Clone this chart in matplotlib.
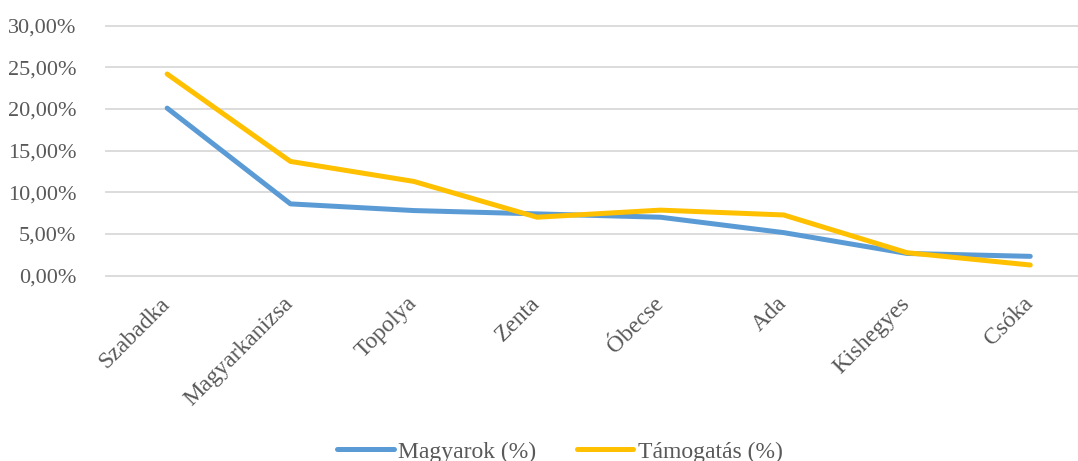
import matplotlib
matplotlib.use("Agg")
import matplotlib.pyplot as plt
from matplotlib.ticker import FuncFormatter

categories = ["Szabadka", "Magyarkanizsa", "Topolya", "Zenta", "Óbecse", "Ada", "Kishegyes", "Csóka"]
magyarok = [20.1, 8.6, 7.8, 7.4, 7.0, 5.15, 2.65, 2.3]
tamogatas = [24.2, 13.7, 11.3, 7.0, 7.85, 7.27, 2.74, 1.26]
series_names = ["Magyarok (%)", "Támogatás (%)"]
yticks = [0, 5, 10, 15, 20, 25, 30]

plt.rcParams['font.family'] = ['Liberation Serif', 'DejaVu Serif']
txt = '#595959'

W, H = 1078, 461
fig = plt.figure(figsize=(W / 100, H / 100), dpi=100)
left_px, right_px = 105.5, 1078
top_px, bot_px = 25.7, 275.5
ax = fig.add_axes([left_px / W, (H - bot_px) / H, (right_px - left_px) / W, (bot_px - top_px) / H])

x = list(range(len(categories)))
ax.plot(x, magyarok, color='#5B9BD5', lw=3.6, solid_capstyle='round', solid_joinstyle='round', label=series_names[0], zorder=3)
ax.plot(x, tamogatas, color='#FFC000', lw=3.6, solid_capstyle='round', solid_joinstyle='round', label=series_names[1], zorder=3)

spacing = 123.3
ax.set_xlim(-0.5, -0.5 + (right_px - left_px) / spacing)
ax.set_ylim(0, 30)
ax.set_yticks(yticks)
ax.yaxis.set_major_formatter(FuncFormatter(lambda v, p: f"{v:.2f}".replace('.', ',') + '%'))
ax.grid(axis='y', color='#D9D9D9', lw=1.3)
ax.set_axisbelow(True)
for gl in ax.get_ygridlines():
    gl.set_clip_on(False)
for s in ax.spines.values():
    s.set_visible(False)
ax.tick_params(axis='both', length=0, labelsize=16, colors=txt)
ax.tick_params(axis='y', pad=21)
ax.set_xticks(x)
ax.set_xticklabels(categories, rotation=45, ha='right', va='center', rotation_mode='anchor', fontsize=17)
ax.tick_params(axis='x', pad=18)

leg = fig.legend(loc='center', bbox_to_anchor=(560 / W, 0.02), ncol=2, frameon=False,
                 fontsize=17, handlelength=2.4, handletextpad=0.2, columnspacing=1.7, labelcolor=txt)
for l in leg.get_lines():
    l.set_linewidth(3.6)
    l.set_solid_capstyle('round')

fig.savefig("out.png", dpi=100)
